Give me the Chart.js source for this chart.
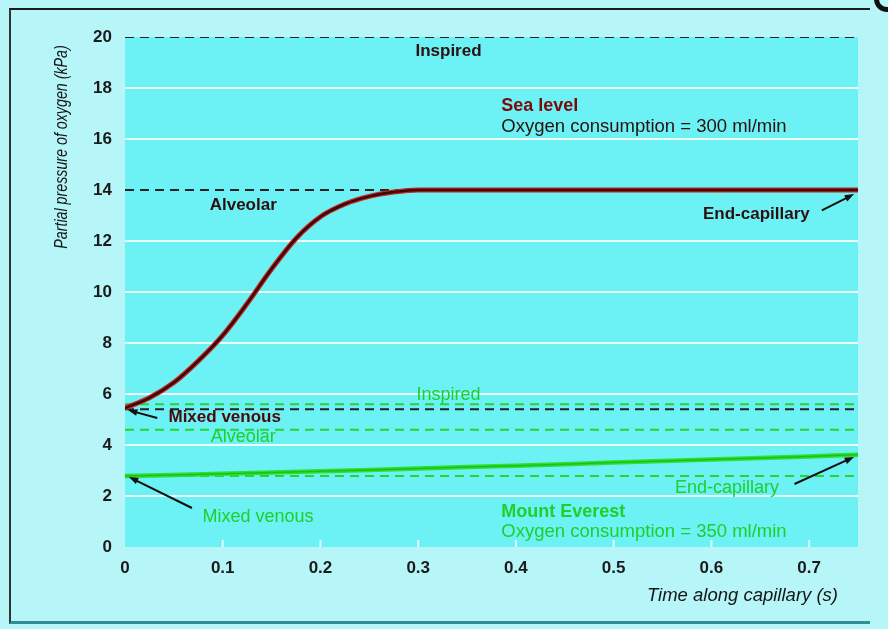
<!DOCTYPE html>
<html lang="en">
<head>
  <meta charset="UTF-8" />
  <title>Partial pressure of oxygen along the capillary</title>
  <script src="https://cdn.jsdelivr.net/npm/chart.js"></script>
  <style>
    html, body { margin: 0; padding: 0; background: #fff; }
    #frame {
      position: absolute; left: 0; top: 0; width: 888px; height: 629px;
      background: #b6f6f8; overflow: hidden;
    }
    #frame:before {
      content: ""; position: absolute; left: 9px; top: 8px; right: 18px; bottom: 5px;
      border-top: 2px solid #1c1c1c; border-left: 2px solid #333;
      border-bottom: 3px solid #2f8f95;
    }
    #blob {
      position: absolute; left: 874px; top: -14px; width: 26px; height: 26px;
      border-radius: 50%; border: 5px solid #111; box-sizing: border-box;
    }
    canvas { position: absolute; left: 0; top: 0; }
  </style>
</head>
<body>
  <div id="frame">
    <div id="blob"></div>
    <canvas id="chart" width="888" height="629"></canvas>
  </div>

  <script>
    // time along capillary (s)
    const seaTime  = [0, 0.025, 0.05, 0.075, 0.1, 0.125, 0.15, 0.175, 0.2, 0.225, 0.25, 0.275, 0.3, 0.4, 0.5, 0.6, 0.75];
    const seaPO2   = [5.45, 5.85, 6.45, 7.3, 8.3, 9.55, 10.9, 12.1, 12.95, 13.45, 13.75, 13.92, 14.0, 14.0, 14.0, 14.0, 14.0];
    const everTime = [0, 0.1, 0.2, 0.3, 0.4, 0.5, 0.6, 0.7, 0.75];
    const everPO2  = [2.78, 2.87, 2.97, 3.08, 3.19, 3.31, 3.43, 3.55, 3.62];

    // reference levels (kPa)
    const seaInspired = 20;
    const seaAlveolar = 14;
    const seaMixedVenous = 5.4;
    const everInspired = 5.6;
    const everAlveolar = 4.6;
    const everEndCap = 2.78;

    const xTicks = [0, 0.1, 0.2, 0.3, 0.4, 0.5, 0.6, 0.7];
    const yTicks = [0, 2, 4, 6, 8, 10, 12, 14, 16, 18, 20];

    const DARK = '#2a1010';
    const MAROON = '#7c0a0a';
    const GREEN = '#1fcf2a';
    const SANS = '"Liberation Sans", Arial';

    function pts(xs, ys) { return xs.map((x, i) => ({ x: x, y: ys[i] })); }
    function level(y) { return [{ x: 0, y: y }, { x: 0.75, y: y }]; }
    function dashed(y, color) {
      return { data: level(y), borderColor: color, borderWidth: 2, borderDash: [9, 6], pointRadius: 0, fill: false, order: 10 };
    }

    // text labels, placed in data coordinates
    const labels = [
      { t: 'Inspired', x: 0.331, y: 19.45, c: DARK, f: 'bold 17px ' + SANS },
      { t: 'Sea level', x: 0.385, y: 17.3, c: MAROON, f: 'bold 18px ' + SANS, a: 'left' },
      { t: 'Oxygen consumption = 300 ml/min', x: 0.385, y: 16.47, c: DARK, f: '18.5px ' + SANS, a: 'left' },
      { t: 'Alveolar', x: 0.121, y: 13.41, c: DARK, f: 'bold 17px ' + SANS },
      { t: 'End-capillary', x: 0.646, y: 13.06, c: DARK, f: 'bold 17px ' + SANS },
      { t: 'Mixed venous', x: 0.102, y: 5.1, c: '#4a0808', f: 'bold 17px ' + SANS },
      { t: 'Inspired', x: 0.331, y: 5.96, c: GREEN, f: '18px ' + SANS },
      { t: 'Alveolar', x: 0.121, y: 4.31, c: GREEN, f: '18px ' + SANS },
      { t: 'Mixed venous', x: 0.136, y: 1.18, c: GREEN, f: '18px ' + SANS },
      { t: 'End-capillary', x: 0.616, y: 2.31, c: GREEN, f: '18px ' + SANS },
      { t: 'Mount Everest', x: 0.385, y: 1.37, c: GREEN, f: 'bold 18px ' + SANS, a: 'left' },
      { t: 'Oxygen consumption = 350 ml/min', x: 0.385, y: 0.6, c: GREEN, f: '18.5px ' + SANS, a: 'left' }
    ];
    const arrows = [
      { x0: 0.033, y0: 5.06, x1: 0.003, y1: 5.37 },
      { x0: 0.713, y0: 13.2, x1: 0.746, y1: 13.84 },
      { x0: 0.0685, y0: 1.53, x1: 0.004, y1: 2.75 },
      { x0: 0.685, y0: 2.47, x1: 0.746, y1: 3.53 }
    ];

    const decor = {
      id: 'decor',
      beforeDraw(chart) {
        const { ctx, chartArea: a } = chart;
        ctx.save();
        ctx.fillStyle = '#6cf1f5';
        ctx.fillRect(a.left, a.top, a.right - a.left, a.bottom - a.top);
        ctx.restore();
      },
      afterDraw(chart) {
        const { ctx, chartArea: a, scales: { x, y } } = chart;
        ctx.save();
        // little white ticks on the x axis
        ctx.strokeStyle = '#e8ffff';
        ctx.lineWidth = 2;
        xTicks.slice(1).forEach(v => {
          const px = x.getPixelForValue(v);
          ctx.beginPath(); ctx.moveTo(px, a.bottom); ctx.lineTo(px, a.bottom - 7); ctx.stroke();
        });
        // labels
        ctx.textBaseline = 'middle';
        labels.forEach(l => {
          ctx.font = l.f;
          ctx.fillStyle = l.c;
          ctx.textAlign = l.a || 'center';
          ctx.fillText(l.t, x.getPixelForValue(l.x), y.getPixelForValue(l.y));
        });
        // arrows
        ctx.strokeStyle = '#111';
        ctx.fillStyle = '#111';
        ctx.lineWidth = 2;
        arrows.forEach(r => {
          const x0 = x.getPixelForValue(r.x0), y0 = y.getPixelForValue(r.y0);
          const x1 = x.getPixelForValue(r.x1), y1 = y.getPixelForValue(r.y1);
          const ang = Math.atan2(y1 - y0, x1 - x0);
          ctx.beginPath(); ctx.moveTo(x0, y0);
          ctx.lineTo(x1 - 6 * Math.cos(ang), y1 - 6 * Math.sin(ang)); ctx.stroke();
          ctx.beginPath();
          ctx.moveTo(x1, y1);
          ctx.lineTo(x1 - 10 * Math.cos(ang - 0.35), y1 - 10 * Math.sin(ang - 0.35));
          ctx.lineTo(x1 - 10 * Math.cos(ang + 0.35), y1 - 10 * Math.sin(ang + 0.35));
          ctx.closePath(); ctx.fill();
        });
        // axis titles
        ctx.fillStyle = '#151515';
        ctx.font = 'italic 18.5px ' + SANS;
        ctx.textAlign = 'right';
        ctx.fillText('Time along capillary (s)', 838, 596);
        ctx.translate(62, 147);
        ctx.rotate(-Math.PI / 2);
        ctx.scale(0.77, 1);
        ctx.textAlign = 'center';
        ctx.fillText('Partial pressure of oxygen (kPa)', 0, 0);
        ctx.restore();
      }
    };

    new Chart(document.getElementById('chart'), {
      type: 'line',
      data: {
        datasets: [
          dashed(seaInspired, '#222'),
          dashed(seaAlveolar, '#222'),
          dashed(everInspired, '#27d52b'),
          dashed(seaMixedVenous, '#222'),
          dashed(everAlveolar, '#27d52b'),
          dashed(everEndCap, '#27d52b'),
          { data: pts(seaTime, seaPO2), borderColor: '#c42222', borderWidth: 5, pointRadius: 0, cubicInterpolationMode: 'monotone', order: 2 },
          { data: pts(seaTime, seaPO2), borderColor: '#3a0606', borderWidth: 2.5, pointRadius: 0, cubicInterpolationMode: 'monotone', order: 1 },
          { data: pts(everTime, everPO2), borderColor: '#2fe02f', borderWidth: 4.5, pointRadius: 0, tension: 0.3, order: 4 },
          { data: pts(everTime, everPO2), borderColor: '#19c11c', borderWidth: 1.5, pointRadius: 0, tension: 0.3, order: 3 }
        ]
      },
      options: {
        responsive: false,
        animation: false,
        events: [],
        layout: { padding: { left: 40, right: 30, top: 37, bottom: 0 } },
        plugins: { legend: { display: false }, tooltip: { enabled: false } },
        scales: {
          x: {
            type: 'linear', min: 0, max: 0.75,
            afterFit(s) { s.height = 82; },
            afterBuildTicks(s) { s.ticks = xTicks.map(v => ({ value: v })); },
            grid: { display: false },
            border: { display: false },
            ticks: {
              padding: 3, color: '#1a1a1a',
              font: { family: SANS, size: 17, weight: 'bold' },
              callback: v => String(v)
            }
          },
          y: {
            min: 0, max: 20,
            afterFit(s) { s.width = 85; },
            afterBuildTicks(s) { s.ticks = yTicks.map(v => ({ value: v })); },
            grid: {
              drawTicks: false, lineWidth: 2,
              color: c => (c.tick && c.tick.value > 0 && c.tick.value < 20 && c.tick.value !== 14) ? '#eaffff' : 'rgba(0,0,0,0)'
            },
            border: { display: false },
            ticks: {
              padding: 13, color: '#1a1a1a',
              font: { family: SANS, size: 17, weight: 'bold' }
            }
          }
        }
      },
      plugins: [decor]
    });
  </script>
</body>
</html>
